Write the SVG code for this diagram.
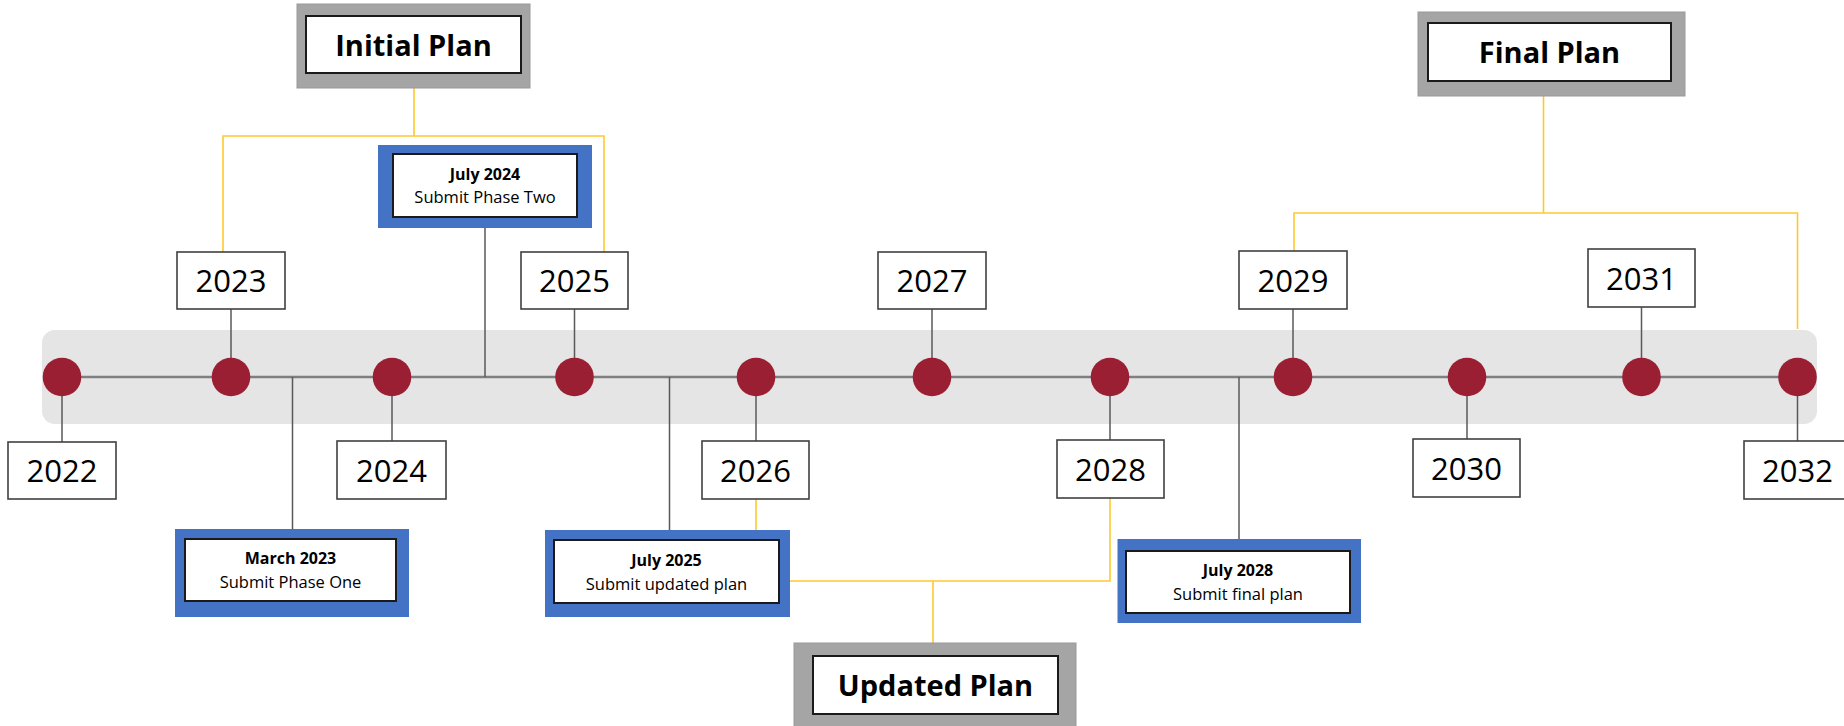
<svg xmlns="http://www.w3.org/2000/svg" width="1844" height="726" viewBox="0 0 1844 726">
<style>
.band{fill:#e5e5e5}
.dot{fill:#9b1f32}
.yr{fill:#fff;stroke:#404040;stroke-width:1.6}
.yt{font-family:"Open Sans","Liberation Sans",sans-serif;font-size:31px;fill:#000;text-anchor:middle}
.blue{fill:#4472c4}
.plan{fill:#a5a5a5;stroke:#999;stroke-width:1}
.inner{fill:#fff;stroke:#1a1a1a;stroke-width:2}
.pt{font-family:"Open Sans","Liberation Sans",sans-serif;font-size:29px;font-weight:bold;fill:#000;text-anchor:middle}
.sb{font-family:"Open Sans","Liberation Sans",sans-serif;font-size:16px;font-weight:bold;fill:#000;text-anchor:middle}
.sr{font-family:"Open Sans","Liberation Sans",sans-serif;font-size:16.5px;fill:#000;text-anchor:middle}
.g{fill:none;stroke:#595959;stroke-width:1.5}
.tl{fill:none;stroke:#7f7f7f;stroke-width:2.5}
.y{fill:none;stroke:#ffc92e;stroke-width:1.6}
</style>
<rect width="1844" height="726" fill="#fff"/>
<rect class="band" x="42" y="330" width="1775" height="94" rx="13"/>
<g id="connectors">
<path class="tl" d="M62,377 H1797"/>
<path class="g" d="M62,377 V442 M231,309 V377 M292.5,377 V529 M392,377 V441 M485,228 V377 M574.5,309 V377 M669.5,377 V530 M756,377 V441 M932,309 V377 M1110,377 V440 M1239,377 V539 M1293,309 V377 M1467,377 V439 M1641.5,307 V377 M1797.5,377 V441"/>
<path class="y" d="M414,88 V136 M223,252 V136 H604 V252"/>
<path class="y" d="M1543.5,96 V213 M1294,251 V213 H1797.5 V329"/>
<path class="y" d="M756,499 V530 M790,581 H1110 V498 M933,581 V643"/>
</g>
<g id="dots">
<circle class="dot" cx="62" cy="377" r="19.3"/>
<circle class="dot" cx="231" cy="377" r="19.3"/>
<circle class="dot" cx="392" cy="377" r="19.3"/>
<circle class="dot" cx="574.5" cy="377" r="19.3"/>
<circle class="dot" cx="756" cy="377" r="19.3"/>
<circle class="dot" cx="932" cy="377" r="19.3"/>
<circle class="dot" cx="1110" cy="377" r="19.3"/>
<circle class="dot" cx="1293" cy="377" r="19.3"/>
<circle class="dot" cx="1467" cy="377" r="19.3"/>
<circle class="dot" cx="1641.5" cy="377" r="19.3"/>
<circle class="dot" cx="1797.5" cy="377" r="19.3"/>
</g>
<g id="y2022"><rect class="yr" x="8" y="442" width="108" height="57"/><text class="yt" x="62" y="482">2022</text></g>
<g id="y2023"><rect class="yr" x="177" y="252" width="108" height="57"/><text class="yt" x="231" y="292">2023</text></g>
<g id="y2024"><rect class="yr" x="337" y="441" width="109" height="58"/><text class="yt" x="391.5" y="482">2024</text></g>
<g id="y2025"><rect class="yr" x="521" y="252" width="107" height="57"/><text class="yt" x="574.5" y="292">2025</text></g>
<g id="y2026"><rect class="yr" x="702" y="441" width="107" height="58"/><text class="yt" x="755.5" y="482">2026</text></g>
<g id="y2027"><rect class="yr" x="878" y="252" width="108" height="57"/><text class="yt" x="932" y="292">2027</text></g>
<g id="y2028"><rect class="yr" x="1057" y="440" width="107" height="58"/><text class="yt" x="1110.5" y="481">2028</text></g>
<g id="y2029"><rect class="yr" x="1239" y="251" width="108" height="58"/><text class="yt" x="1293" y="292">2029</text></g>
<g id="y2030"><rect class="yr" x="1413" y="439" width="107" height="58"/><text class="yt" x="1466.5" y="480">2030</text></g>
<g id="y2031"><rect class="yr" x="1588" y="249" width="107" height="58"/><text class="yt" x="1641.5" y="290">2031</text></g>
<g id="y2032"><rect class="yr" x="1744" y="441" width="108" height="58"/><text class="yt" x="1797.5" y="482">2032</text></g>
<g id="initial-plan"><rect class="plan" x="297" y="4" width="233" height="84"/><rect class="inner" x="306" y="16" width="215" height="57"/><text class="pt" x="413.5" y="56">Initial Plan</text></g>
<g id="final-plan"><rect class="plan" x="1418" y="12" width="267" height="84"/><rect class="inner" x="1428" y="23" width="243" height="58"/><text class="pt" x="1549.5" y="63">Final Plan</text></g>
<g id="updated-plan"><rect class="plan" x="794" y="643" width="282" height="86"/><rect class="inner" x="813" y="656" width="245" height="58"/><text class="pt" x="935.5" y="696">Updated Plan</text></g>
<g id="july2024"><rect class="blue" x="378" y="145" width="214" height="83"/><rect class="inner" x="393" y="154" width="184" height="63"/><text class="sb" x="485" y="180">July 2024</text><text class="sr" x="485" y="203">Submit Phase Two</text></g>
<g id="march2023"><rect class="blue" x="175" y="529" width="234" height="88"/><rect class="inner" x="185" y="539" width="211" height="62"/><text class="sb" x="290.5" y="564">March 2023</text><text class="sr" x="290.5" y="588">Submit Phase One</text></g>
<g id="july2025"><rect class="blue" x="545" y="530" width="245" height="87"/><rect class="inner" x="554" y="540" width="225" height="63"/><text class="sb" x="666.5" y="566">July 2025</text><text class="sr" x="666.5" y="590">Submit updated plan</text></g>
<g id="july2028"><rect class="blue" x="1117.5" y="539" width="243.5" height="84"/><rect class="inner" x="1126" y="551" width="224" height="62"/><text class="sb" x="1238" y="576">July 2028</text><text class="sr" x="1238" y="600">Submit final plan</text></g>
</svg>
